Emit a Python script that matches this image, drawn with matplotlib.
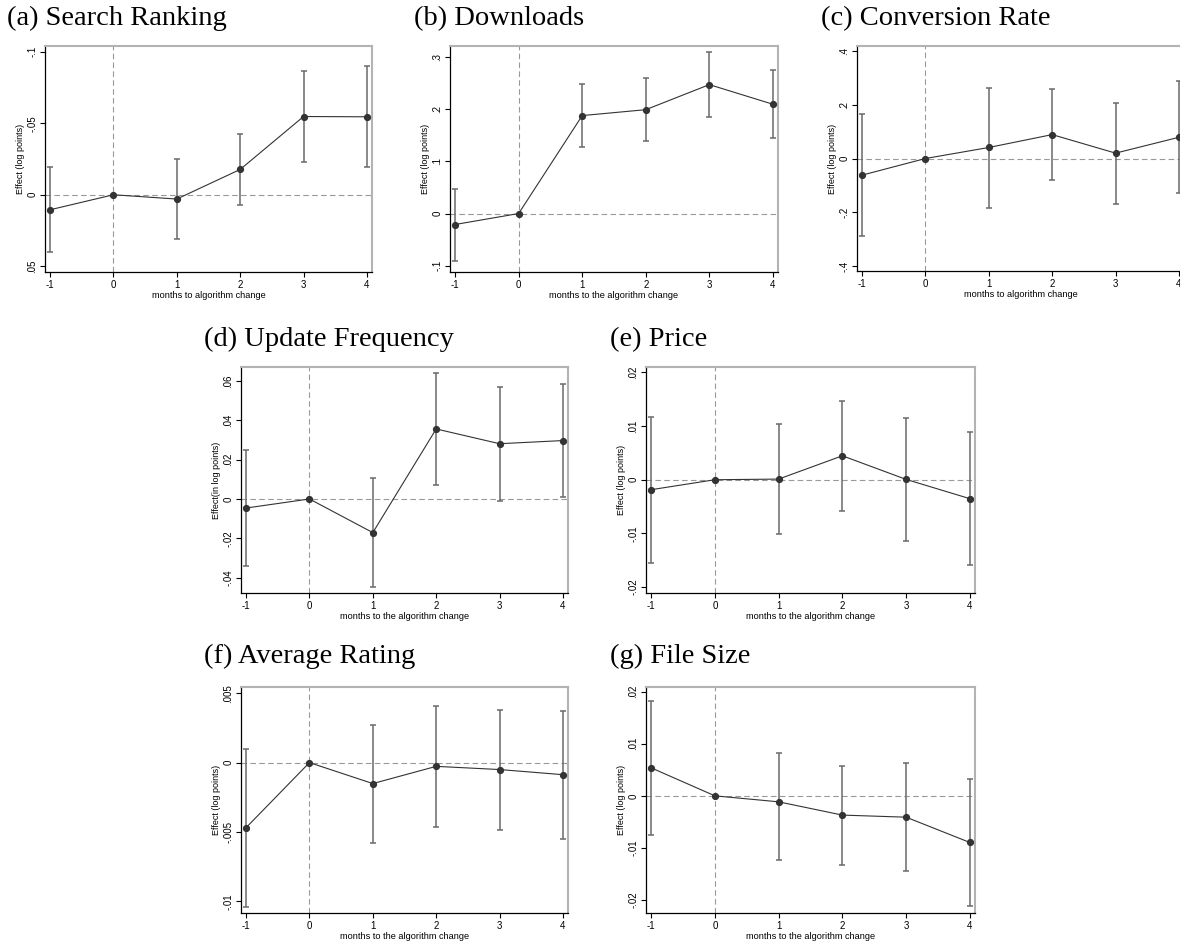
import numpy as np
import matplotlib.pyplot as plt

# months relative to the algorithm change
months = [-1, 0, 1, 2, 3, 4]

# point estimates and 95% CI bounds
rank_est = [0.0105, 0, 0.003, -0.0177, -0.0547, -0.0545]
rank_lo = [-0.0196, 0, -0.025, -0.0424, -0.0865, -0.0897]
rank_hi = [0.040, 0, 0.0308, 0.007, -0.0229, -0.0196]

down_est = [-0.021, 0, 0.1877, 0.199, 0.247, 0.2094]
down_lo = [-0.091, 0, 0.128, 0.1385, 0.1858, 0.1443]
down_hi = [0.047, 0, 0.2477, 0.2605, 0.3096, 0.2745]

conv_est = [-0.062, 0, 0.041, 0.089, 0.020, 0.079]
conv_lo = [-0.287, 0, -0.185, -0.080, -0.169, -0.129]
conv_hi = [0.164, 0, 0.264, 0.257, 0.208, 0.288]

upd_est = [-0.0046, 0, -0.0171, 0.0356, 0.0281, 0.0297]
upd_lo = [-0.0339, 0, -0.045, 0.0073, -0.0008, 0.0009]
upd_hi = [0.0247, 0, 0.0109, 0.0643, 0.0569, 0.0583]

price_est = [-0.00186, 0, 0.00012, 0.00446, 0.00006, -0.00353]
price_lo = [-0.0155, 0, -0.0102, -0.0058, -0.01148, -0.0159]
price_hi = [0.01172, 0, 0.0104, 0.01464, 0.01159, 0.0088]

rate_est = [-0.00469, 0, -0.00151, -0.00027, -0.0005, -0.00087]
rate_lo = [-0.01038, 0, -0.00577, -0.00464, -0.00483, -0.00548]
rate_hi = [0.00101, 0, 0.00271, 0.00408, 0.0038, 0.00375]

size_est = [0.00538, 0, -0.00115, -0.0037, -0.0041, -0.00896]
size_lo = [-0.0075, 0, -0.0124, -0.0133, -0.0145, -0.0212]
size_hi = [0.0183, 0, 0.0083, 0.0058, 0.0064, 0.0032]

fig = plt.figure(figsize=(11.8, 9.41), dpi=100)
W, H = 1180, 941

def panel(box, title, tpos, est, lo, hi, yticks, ylabels, ylim,
          ylab='Effect (log points)', xlab='months to the algorithm change'):
    l, t, r, b = box
    ax = fig.add_axes([l / W, 1 - b / H, (r - l) / W, (b - t) / H])
    ax.axhline(0, color='#999999', lw=0.8, ls=(0, (5, 3)), zorder=1)
    ax.axvline(0, color='#999999', lw=0.8, ls=(0, (5, 3)), zorder=1)
    est = np.array(est)
    err = [est - np.array(lo), np.array(hi) - est]
    ax.errorbar(months, est, yerr=err, fmt='none', ecolor='#6a6a6a',
                elinewidth=1.1, capsize=2.2, capthick=1.1, zorder=2)
    ax.plot(months, est, color='#333333', lw=0.8, marker='o', ms=4.2,
            mfc='#333333', mec='#333333', zorder=3)
    ax.set_xlim(-1.08, 4.08)
    ax.set_ylim(*ylim)
    ax.set_xticks(months)
    ax.set_xticklabels([str(m) for m in months], fontsize=7)
    ax.set_yticks(yticks)
    ax.set_yticklabels(ylabels, fontsize=7, rotation=90, va='center')
    ax.tick_params(direction='out', length=3.5, width=0.8, pad=2)
    for s in ['left', 'bottom']:
        ax.spines[s].set_color('black')
        ax.spines[s].set_linewidth(0.9)
    for s in ['top', 'right']:
        ax.spines[s].set_color('#b3b3b3')
        ax.spines[s].set_linewidth(1.5)
    ax.set_xlabel(xlab, fontsize=6.6, labelpad=1)
    ax.set_ylabel(ylab, fontsize=6.5, labelpad=2)
    fig.text(tpos[0] / W, 1 - tpos[1] / H, title, family='Liberation Serif',
             fontsize=20.5, va='baseline', ha='left')
    return ax

plt.rcParams['font.family'] = 'Liberation Sans'

panel((45, 46, 372, 272), '(a) Search Ranking', (7, 25),
      rank_est, rank_lo, rank_hi,
      [-0.1, -0.05, 0, 0.05], ['-.1', '-.05', '0', '.05'], (0.054, -0.104),
      xlab='months to algorithm change')
panel((450, 46, 778, 272), '(b) Downloads', (414, 25),
      down_est, down_lo, down_hi,
      [-0.1, 0, 0.1, 0.2, 0.3], ['-.1', '0', '.1', '.2', '.3'], (-0.112, 0.321))
panel((857, 46, 1184, 271), '(c) Conversion Rate', (821, 25),
      conv_est, conv_lo, conv_hi,
      [-0.4, -0.2, 0, 0.2, 0.4], ['-.4', '-.2', '0', '.2', '.4'], (-0.419, 0.419),
      xlab='months to algorithm change')
panel((241, 367, 568, 593), '(d) Update Frequency', (204, 346),
      upd_est, upd_lo, upd_hi,
      [-0.04, -0.02, 0, 0.02, 0.04, 0.06], ['-.04', '-.02', '0', '.02', '.04', '.06'],
      (-0.0478, 0.0671), ylab='Effect(in log points)')
panel((646, 367, 975, 593), '(e) Price', (610, 346),
      price_est, price_lo, price_hi,
      [-0.02, -0.01, 0, 0.01, 0.02], ['-.02', '-.01', '0', '.01', '.02'], (-0.0211, 0.021))
panel((241, 687, 568, 913), '(f) Average Rating', (204, 663),
      rate_est, rate_lo, rate_hi,
      [-0.01, -0.005, 0, 0.005], ['-.01', '-.005', '0', '.005'], (-0.01084, 0.00545))
panel((646, 687, 975, 913), '(g) File Size', (610, 663),
      size_est, size_lo, size_hi,
      [-0.02, -0.01, 0, 0.01, 0.02], ['-.02', '-.01', '0', '.01', '.02'], (-0.0225, 0.0209))

plt.savefig('out.png')
